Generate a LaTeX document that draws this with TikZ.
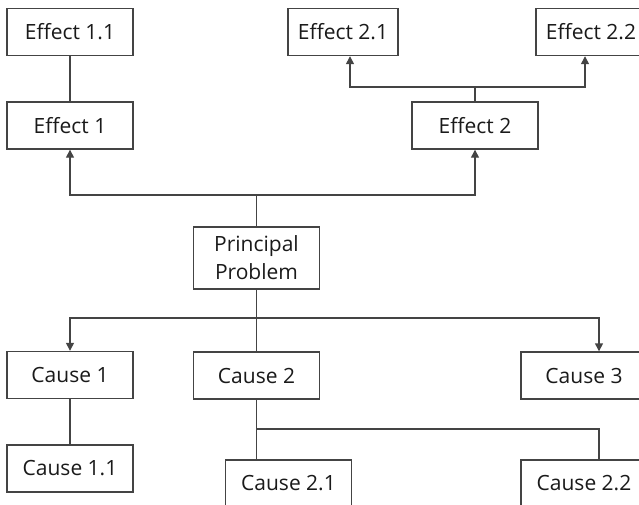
\documentclass[tikz,border=0pt]{standalone}
\usepackage{fontspec}
\setmainfont{Open Sans}
\usepackage{xcolor}
\usetikzlibrary{positioning,arrows.meta}
\definecolor{LineGray}{HTML}{444444}
\definecolor{TextDark}{HTML}{1A1A1A}

\begin{document}
\begin{tikzpicture}[
      x=1pt, y=-1pt,
      every node/.style={align=center, font=\fontsize{21}{28}\selectfont, text=TextDark},
      box/.style={draw=LineGray, line width=1.4pt, fill=white, minimum width=126pt, minimum height=47pt, inner sep=0pt},
      link/.style={LineGray, line width=1.4pt},
      arrow/.style={link, -{Triangle[length=8pt,width=8pt]}}
    ]
      \useasboundingbox (0,0) rectangle (639,504);

      % Effect boxes
      \node[box] (e11) at (70,32) {Effect 1.1};
      \node[box] (e1) at (70,125.5) {Effect 1};
      \node[box, minimum width=110pt] (e21) at (343,32) {Effect 2.1};
      \node[box, minimum width=110pt] (e22) at (591,32) {Effect 2.2};
      \node[box] (e2) at (475,125.5) {Effect 2};

      % Principal problem
      \node[box, minimum height=62pt] (pp) at (256.5,258) {Principal\\Problem};

      % Cause boxes
      \node[box] (c1) at (70,375) {Cause 1};
      \node[box] (c2) at (256.5,375.5) {Cause 2};
      \node[box] (c3) at (584,375.5) {Cause 3};
      \node[box] (c11) at (70,468.5) {Cause 1.1};
      \node[box] (c21) at (288.5,483.5) {Cause 2.1};
      \node[box] (c22) at (584,483.5) {Cause 2.2};

      % Junctions
      \coordinate (jtop) at (256.5,195);
      \coordinate (j2) at (475,87);
      \coordinate (jbot) at (256.5,318);
      \coordinate (jc2) at (256.5,429);

      % Effects
      \draw[link] (e11) -- (e1);
      \draw[link] (pp.north) -- (jtop);
      \draw[arrow] (jtop) -| (e1.south);
      \draw[arrow] (jtop) -| (e2.south);
      \draw[link] (e2.north) -- (j2);
      \draw[arrow] (j2) -| ([xshift=7pt]e21.south);
      \draw[arrow] (j2) -| ([xshift=-6pt]e22.south);

      % Causes
      \draw[link] (pp.south) -- (c2.north);
      \draw[arrow] (jbot) -| (c1.north);
      \draw[arrow] (jbot) -| ([xshift=15pt]c3.north);
      \draw[link] (c1) -- (c11);
      \draw[link] (c2.south) -- (c2.south |- c21.north);
      \draw[link] (jc2) -| ([xshift=15pt]c22.north);

    \end{tikzpicture}
\end{document}
